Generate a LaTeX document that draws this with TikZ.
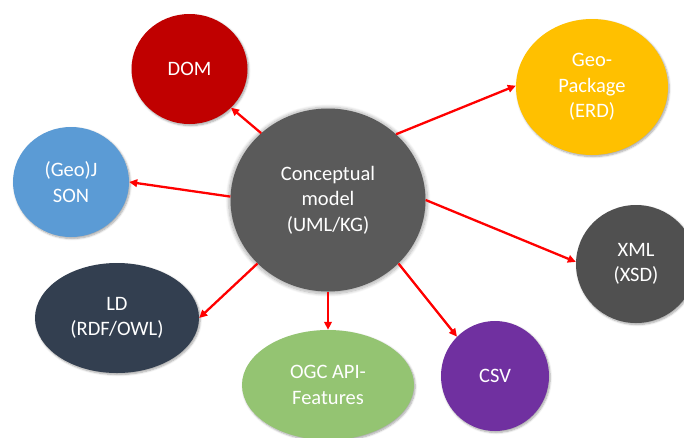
\documentclass[tikz,border=0pt]{standalone}
\usepackage{fontspec}
\setmainfont{Carlito}
\usetikzlibrary{shapes.geometric,arrows.meta,shadows.blur}

\definecolor{centgray}{HTML}{5A5A5A}
\definecolor{domred}{HTML}{C00000}
\definecolor{geoyellow}{HTML}{FFC000}
\definecolor{jsonblue}{HTML}{5B9BD5}
\definecolor{xmlgray}{HTML}{505050}
\definecolor{ldnavy}{HTML}{333F50}
\definecolor{ogcgreen}{HTML}{94C472}
\definecolor{csvpurple}{HTML}{7030A0}
\definecolor{linkred}{HTML}{FF0000}

\begin{document}
\begin{tikzpicture}[x=1pt,y=-1pt,
  format/.style={ellipse, inner sep=0pt, text=white, align=center,
    font=\fontsize{20.5}{25.5}\selectfont,
    blur shadow={shadow xshift=1.2pt, shadow yshift=-1.5pt,
      shadow blur radius=2pt, shadow blur steps=6, shadow opacity=35}},
  hub/.style={ellipse, inner sep=0pt, fill=centgray, text=white, align=center,
    font=\fontsize{20.5}{25.5}\selectfont,
    blur shadow={shadow xshift=0pt, shadow yshift=-0.5pt, shadow scale=1.02,
      shadow blur radius=3pt, shadow blur steps=8, shadow opacity=30}},
  link/.style={draw=linkred, line width=2.3pt,
    -{Triangle[length=8pt,width=7.5pt]}}]

\useasboundingbox (0,0) rectangle (684,437);

% central concept
\node[hub, minimum width=195pt, minimum height=183pt] (c) at (328,200)
  {Conceptual\\model\\(UML/KG)};

% derived formats
\node[format, fill=domred, minimum width=116pt, minimum height=110pt] (dom) at (189.5,69) {DOM};
\node[format, fill=geoyellow, minimum width=152pt, minimum height=136pt] (gpkg) at (592,87) {Geo-\\Package\\(ERD)};
\node[format, fill=jsonblue, minimum width=116pt, minimum height=110pt] (json) at (71,182) {(Geo)J\\SON};
\node[format, fill=xmlgray, minimum width=120pt, minimum height=118pt] (xml) at (636,264) {XML\\(XSD)};
\node[format, fill=ldnavy, minimum width=164pt, minimum height=110pt] (ld) at (117,318) {LD\\(RDF/OWL)};
\node[format, fill=ogcgreen, minimum width=172pt, minimum height=110pt] (ogc) at (328,385) {OGC API-\\Features};
\node[format, fill=csvpurple, minimum width=108pt, minimum height=110pt] (csv) at (495,376) {CSV};

% connectors
\draw[link] (c.135) -- (dom.317);
\draw[link] (c.44)  -- (gpkg.179);
\draw[link] (c.178) -- (json.0);
\draw[link] (c.0)   -- (xml.178);
\draw[link] (c.222) -- (ld.0);
\draw[link] (c.270) -- (ogc.90);
\draw[link] (c.318) -- (csv.134);
\end{tikzpicture}
\end{document}
